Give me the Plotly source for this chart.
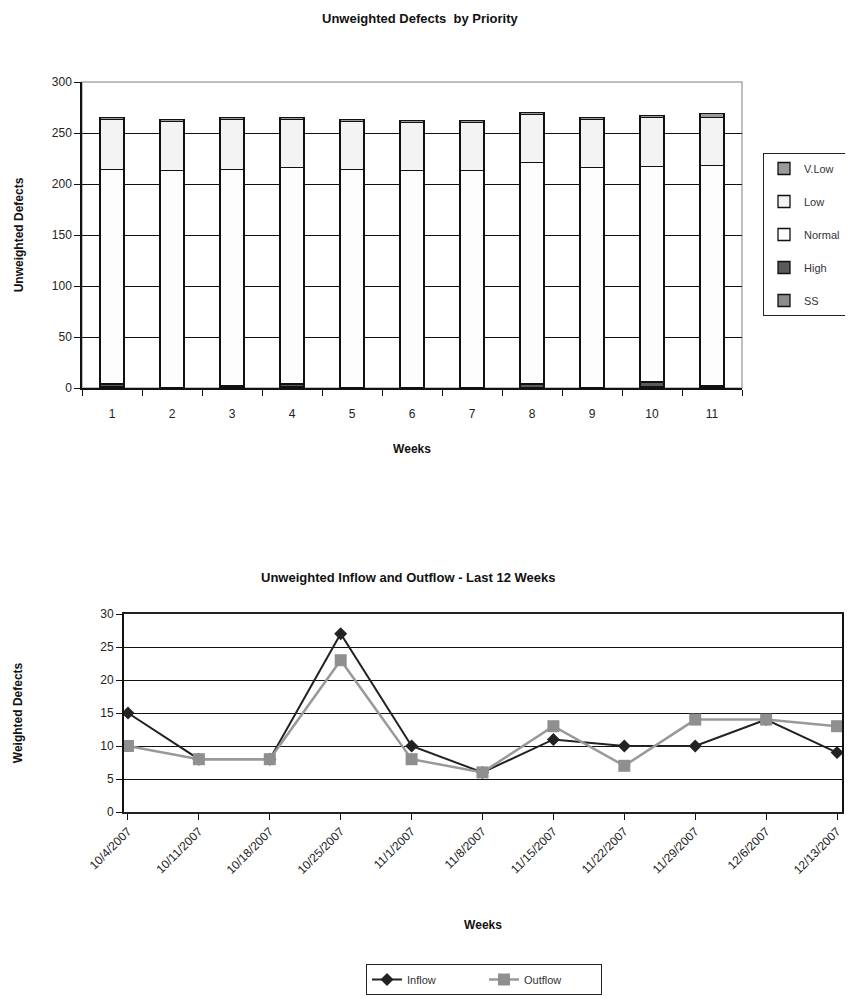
import plotly.graph_objects as go

# ---- Top chart data ----
weeks = ["1", "2", "3", "4", "5", "6", "7", "8", "9", "10", "11"]
ss     = [1, 0, 0, 1, 0, 0, 0, 0, 0, 1, 0]
high   = [3, 0.5, 2, 3, 0.5, 0.5, 0.5, 4, 0.5, 5, 2]
normal = [210, 213, 212, 212, 214, 213, 213, 217, 216, 211, 216]
low    = [49, 48, 49, 47, 47, 47, 47, 47, 47, 48, 47]
vlow   = [2, 2, 2, 2, 2, 2, 2, 2, 2, 2, 4]

# ---- Bottom chart data ----
dates = ["10/4/2007", "10/11/2007", "10/18/2007", "10/25/2007", "11/1/2007",
         "11/8/2007", "11/15/2007", "11/22/2007", "11/29/2007", "12/6/2007", "12/13/2007"]
inflow  = [15, 8, 8, 27, 10, 6, 11, 10, 10, 14, 9]
outflow = [10, 8, 8, 23, 8, 6, 13, 7, 14, 14, 13]

FONT = "Liberation Sans, Arial, sans-serif"
OFF = 8  # page body margin
W, H = 853 - OFF, 999 - OFF

def fx(x):
    return (x - OFF) / W

def fy(y):
    return 1 - (y - OFF) / H

def px(x0, x1):
    return [fx(x0), fx(x1)]

def py(top, bottom):
    return [fy(bottom), fy(top)]

fig = go.Figure()

series = [("SS", ss, "#8c8c8c", 5), ("High", high, "#5a5a5a", 4), ("Normal", normal, "#fdfdfd", 3),
          ("Low", low, "#f3f3f3", 2), ("V.Low", vlow, "#9a9a9a", 1)]
for name, vals, col, rank in series:
    fig.add_trace(go.Bar(x=weeks, y=vals, name=name, marker=dict(color=col, line=dict(color="#111", width=1.3)),
                         xaxis="x", yaxis="y", legend="legend", legendgroup=name, legendrank=rank))

fig.add_trace(go.Scatter(x=dates, y=inflow, name="Inflow", mode="lines+markers",
                         line=dict(color="#222", width=2), marker=dict(symbol="diamond", size=10, color="#222"),
                         xaxis="x2", yaxis="y2", legend="legend2"))
fig.add_trace(go.Scatter(x=dates, y=outflow, name="Outflow", mode="lines+markers",
                         line=dict(color="#999", width=2.5), marker=dict(symbol="square", size=12, color="#8f8f8f"),
                         xaxis="x2", yaxis="y2", legend="legend2"))

tickfont = dict(family=FONT, size=12, color="#222")
titlefont = dict(family=FONT, size=12, color="#111", weight="bold")

fig.update_layout(
    width=W, height=H,
    margin=dict(l=0, r=0, t=0, b=0, autoexpand=False),
    paper_bgcolor="white", plot_bgcolor="white",
    barmode="stack", bargap=0.6,
    font=dict(family=FONT, color="#222"),
    xaxis=dict(domain=px(82, 742), anchor="y", type="category", range=[-0.5, 10.5], automargin=False,
               showline=True, linecolor="#111", linewidth=1.5, ticks="outside", ticklen=6,
               ticklabelstandoff=14,
               tickson="boundaries", tickcolor="#111", tickfont=tickfont, showgrid=False,
               title=dict(text="Weeks", font=titlefont, standoff=24)),
    yaxis=dict(domain=py(82, 388), anchor="x", range=[0, 300], dtick=50, automargin=False,
               showline=True, linecolor="#111", linewidth=1.5, ticks="outside", ticklen=6,
               tickcolor="#111", tickfont=tickfont, showgrid=True, gridcolor="#111", gridwidth=1.2,
               zeroline=False,
               title=dict(text="Unweighted Defects", font=titlefont, standoff=26)),
    xaxis2=dict(domain=px(124, 842), anchor="y2", type="category", range=[-0.056, 10.07], automargin=False,
                showline=True, linecolor="#222", linewidth=1.5, mirror=True, ticks="outside", ticklen=6,
                tickcolor="#111", tickfont=tickfont, tickangle=-45, showgrid=False,
                title=dict(text="Weeks", font=titlefont, standoff=45)),
    yaxis2=dict(domain=py(614, 812), anchor="x2", range=[0, 30], dtick=5, automargin=False,
                showline=True, linecolor="#111", linewidth=2, mirror=True, ticks="outside", ticklen=6,
                tickcolor="#111", tickfont=tickfont, showgrid=True, gridcolor="#111", gridwidth=1.2,
                zeroline=False,
                title=dict(text="Weighted Defects", font=titlefont, standoff=75)),
    legend=dict(x=fx(763), y=fy(153), xanchor="left", yanchor="top", traceorder="grouped",
                tracegroupgap=14, bordercolor="#222", borderwidth=1, bgcolor="white", itemwidth=30,
                font=dict(family=FONT, size=11, color="#333")),
    legend2=dict(x=fx(484), y=fy(964), xanchor="center", yanchor="top", orientation="h",
                 bordercolor="#222", borderwidth=1, bgcolor="white", entrywidth=72,
                 font=dict(family=FONT, size=11, color="#333")),
    annotations=[
        dict(text="Unweighted Defects  by Priority", x=fx(420), y=fy(18), xref="paper", yref="paper",
             yanchor="middle", showarrow=False, font=dict(family=FONT, size=13, color="#111", weight="bold")),
        dict(text="Unweighted Inflow and Outflow - Last 12 Weeks", x=fx(408), y=fy(577), xref="paper",
             yref="paper", yanchor="middle", showarrow=False,
             font=dict(family=FONT, size=13, color="#111", weight="bold")),
    ],
    shapes=[
        dict(type="rect", xref="x domain", yref="y domain", x0=0, x1=1, y0=0, y1=1,
             line=dict(color="#aaaaaa", width=1.5), layer="below"),
    ],
)

fig.write_html("out.html")
